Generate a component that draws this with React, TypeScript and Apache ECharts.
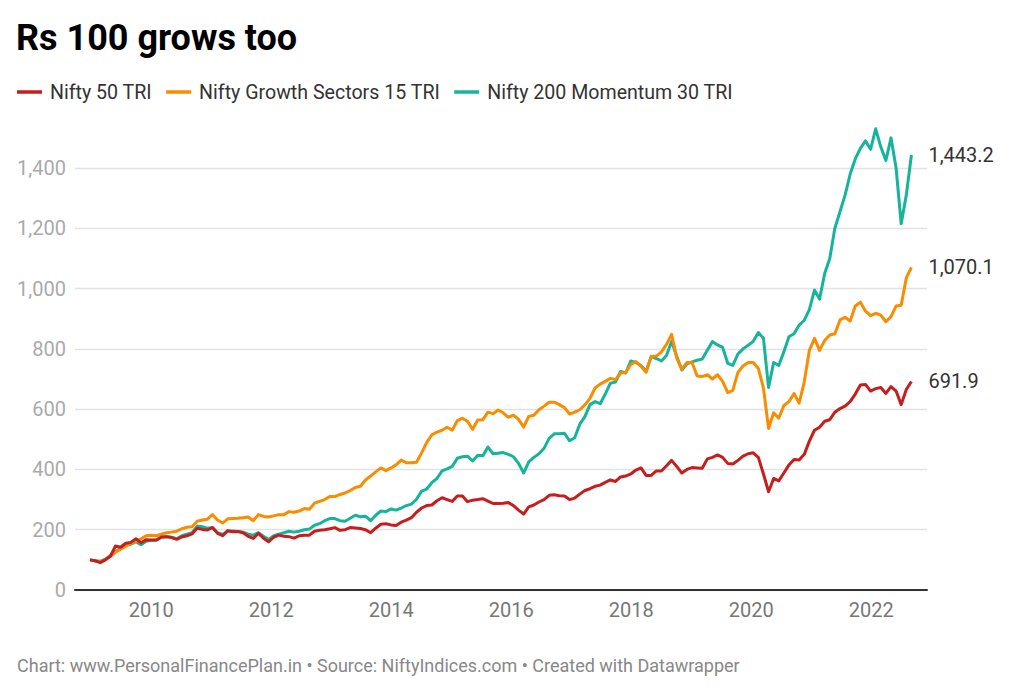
import React, { useEffect, useRef } from "react";
import * as echarts from "echarts";

const TITLE = "Rs 100 grows too";
const FOOTER = "Chart: www.PersonalFinancePlan.in • Source: NiftyIndices.com • Created with Datawrapper";
const SERIES_NAMES = ["Nifty 50 TRI", "Nifty Growth Sectors 15 TRI", "Nifty 200 Momentum 30 TRI"];
const COLORS = ["#c71e1d", "#fa8c00", "#15b49b"];

// monthly readings, first month ≈ Jan 2009, last ≈ Aug 2022
const FIRST_DATE = 2008.98;
const LAST_DATE = 2022.67;

const NIFTY50 = [
  100, 97, 91, 100, 112, 146, 142, 155, 158, 170,
  157, 167, 166, 166, 176, 177, 174, 168, 176, 180,
  186, 205, 201, 199, 207, 188, 180, 197, 193, 194,
  190, 178, 171, 188, 172, 160, 175, 182,
  178, 177, 172, 180, 182, 182, 195, 198, 200, 203,
  207, 198, 200, 207, 206, 204, 200, 190, 205, 218,
  220, 216, 214, 225, 232, 240, 258, 272, 280, 282,
  296, 306, 300, 294, 312, 312, 293, 298, 300, 303, 295, 287,
  287, 288, 290, 280, 265, 252, 276, 282, 292, 300,
  314, 316, 313, 312, 300, 305, 318, 330, 336, 344,
  348, 357, 365, 360, 375, 378, 385, 398, 405, 380, 380, 395, 395,
  412, 430, 410, 388, 400, 406, 405, 404, 435, 440,
  448, 440, 420, 418, 430, 444, 452, 455, 440, 385,
  326, 370, 362, 388, 415, 433, 431, 450, 494, 530,
  540, 560, 565, 590, 602, 610, 625, 650, 680, 682,
  660, 668, 672, 652, 675, 660, 615, 665, 691.9,
];

const GROWTH15 = [
  100, 97, 93, 100, 112, 125, 135, 145, 155, 162,
  170, 180, 182, 180, 185, 190, 192, 195, 203, 208,
  210, 228, 232, 235, 250, 232, 222, 236, 237, 238,
  240, 242, 230, 250, 244, 242, 246, 250,
  250, 260, 258, 262, 270, 268, 288, 294, 300, 310,
  310, 317, 322, 330, 340, 344, 365, 378, 392, 405,
  396, 405, 415, 431, 422, 422, 424, 455, 490, 515,
  524, 530, 540, 530, 562, 570, 560, 533, 564, 565, 590, 585,
  597, 588, 573, 580, 566, 540, 576, 580, 598, 610,
  623, 623, 615, 605, 584, 590, 598, 614, 636, 670,
  683, 692, 702, 698, 720, 722, 748, 758, 742, 722, 775, 776, 790,
  815, 848, 770, 733, 755, 755, 710, 708, 714, 700,
  714, 692, 655, 662, 722, 743, 755, 755, 735, 670,
  536, 588, 570, 612, 625, 652, 620, 690, 795, 835,
  795, 828, 846, 850, 896, 905, 892, 942, 955, 925,
  910, 918, 912, 890, 907, 942, 945, 1035, 1070.1,
];

const MOMENTUM30 = [
  100, 97, 95, 102, 115, 128, 138, 148, 152, 160,
  150, 162, 165, 165, 175, 177, 175, 170, 180, 185,
  190, 212, 210, 205, 207, 190, 184, 195, 196, 194,
  192, 185, 182, 190, 178, 168, 180, 185,
  190, 195, 192, 195, 200, 202, 215, 220, 230, 237,
  237, 230, 228, 238, 248, 243, 245, 230, 248, 262,
  260, 269, 265, 272, 280, 285, 301, 328, 335, 356,
  370, 395, 402, 410, 437, 442, 444, 428, 447, 445, 474, 452,
  454, 456, 450, 442, 420, 388, 425, 440, 452, 470,
  503, 518, 518, 520, 495, 505, 550, 575, 615, 625,
  618, 650, 686, 690, 725, 720, 760, 755, 745, 726, 775, 768, 760,
  778, 825, 775, 730, 750, 757, 762, 766, 795, 824,
  813, 805, 752, 745, 783, 800, 812, 825, 854, 835,
  672, 755, 745, 790, 840, 850, 879, 895, 930, 995,
  965, 1050, 1100, 1200, 1255, 1310, 1380, 1430, 1465, 1490,
  1462, 1530, 1470, 1425, 1500, 1400, 1215, 1310, 1443.2,
];

const X_TICKS = [2010, 2012, 2014, 2016, 2018, 2020, 2022];
const Y_MIN = 0;
const Y_MAX = 1400;
const Y_STEP = 200;

const FONT = "Roboto, 'Noto Sans', sans-serif";

function fmt(v: number, digits: number) {
  return v.toLocaleString("en-US", { minimumFractionDigits: digits, maximumFractionDigits: digits });
}

export default function App() {
  const ref = useRef<HTMLDivElement>(null);

  useEffect(() => {
    if (!ref.current) return;
    const chart = echarts.init(ref.current, undefined, { renderer: "svg" });
    const n = NIFTY50.length;
    const dates = NIFTY50.map((_, i) => FIRST_DATE + (i * (LAST_DATE - FIRST_DATE)) / (n - 1));
    const all = [NIFTY50, GROWTH15, MOMENTUM30];
    const zs = [4, 3, 2];

    const series = all.map((vals, si) => ({
      name: SERIES_NAMES[si],
      type: "line",
      data: vals.map((v, i) => [dates[i], v]),
      showSymbol: false,
      symbol: "none",
      clip: false,
      z: zs[si],
      lineStyle: { width: 3, color: COLORS[si], join: "round" },
      itemStyle: { color: COLORS[si] },
      endLabel: {
        show: true,
        distance: 17,
        color: "#333",
        fontSize: 20,
        fontFamily: FONT,
        formatter: (p: any) => fmt(p.value[1], 1),
      },
      emphasis: { disabled: true },
    }));

    chart.setOption({
      animation: false,
      backgroundColor: "#ffffff",
      textStyle: { fontFamily: FONT },
      title: {
        text: TITLE,
        left: 16,
        top: 20,
        padding: 0,
        textStyle: { fontSize: 36, fontWeight: "bold", color: "#000", fontFamily: FONT },
      },
      legend: {
        data: SERIES_NAMES,
        left: 17,
        top: 82,
        padding: 0,
        icon: "rect",
        itemWidth: 25,
        itemHeight: 3.5,
        itemGap: 14,
        selectedMode: false,
        textStyle: { fontSize: 19.6, color: "#333", fontFamily: FONT, padding: [0, 0, 0, 3] },
      },
      graphic: [
        {
          type: "text",
          left: 17,
          top: 656,
          style: { text: FOOTER, fontSize: 18, fill: "#888", fontFamily: FONT },
        },
      ],
      grid: { left: 75, right: 97, top: 168, bottom: 104, containLabel: false },
      xAxis: {
        type: "value",
        min: 2008.73,
        max: 2022.93,
        axisLine: { show: true, lineStyle: { color: "#333", width: 2 } },
        axisTick: { show: false },
        splitLine: { show: false },
        axisLabel: {
          customValues: X_TICKS,
          margin: 10,
          fontSize: 20,
          color: "#777",
          fontFamily: FONT,
          formatter: (v: number) => String(Math.round(v)),
        },
      },
      yAxis: {
        type: "value",
        min: Y_MIN,
        max: Y_MAX,
        interval: Y_STEP,
        axisLine: { show: false },
        axisTick: { show: false },
        splitLine: { show: true, lineStyle: { color: "#e2e2e2", width: 1.3 } },
        axisLabel: {
          margin: 9,
          fontSize: 20,
          color: "#aaa",
          fontFamily: FONT,
          formatter: (v: number) => fmt(v, 0),
        },
      },
      series,
    });

    return () => chart.dispose();
  }, []);

  return (
    <div
      ref={ref}
      style={{ position: "fixed", left: 0, top: 0, width: 1024, height: 694, background: "#fff" }}
    />
  );
}
